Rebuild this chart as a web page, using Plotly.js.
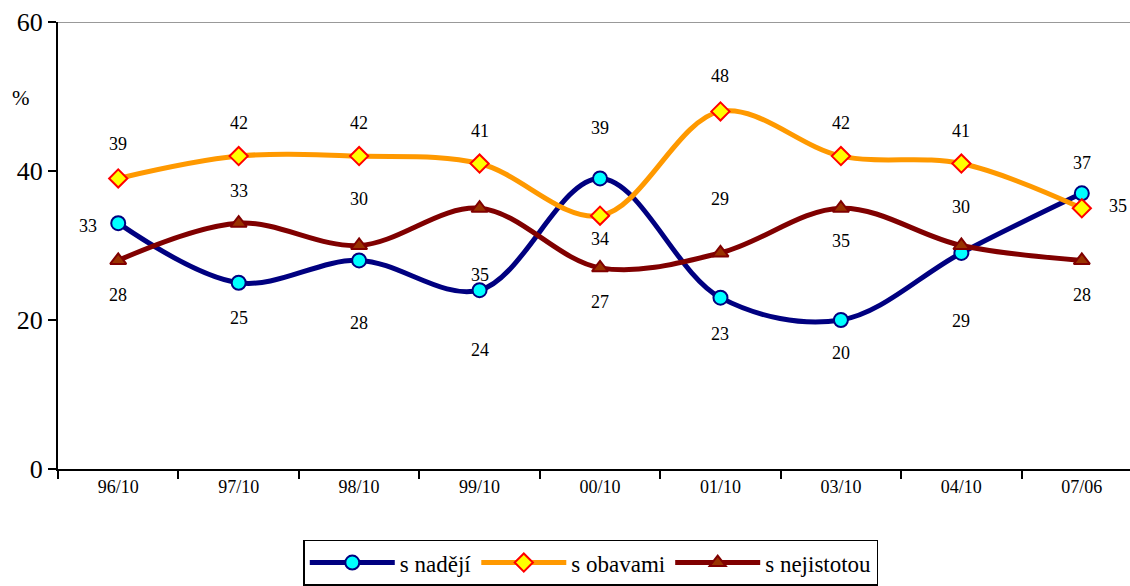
<!DOCTYPE html>
<html><head><meta charset="utf-8">
<script src="https://cdn.plot.ly/plotly-3.0.1.min.js"></script>
<style>html,body{margin:0;padding:0;background:#fff}#chart{width:1130px;height:586px}</style>
</head><body><div id="chart"></div>
<script>
const categories = ["96/10","97/10","98/10","99/10","00/10","01/10","03/10","04/10","07/06"];
const nadeji = [33,25,28,24,39,23,20,29,37];
const obavami = [39,42,42,41,34,48,42,41,35];
const nejistotou = [28,33,30,35,27,29,35,30,28];
const seriesNames = ["s nadějí","s obavami","s nejistotou"];

// label offsets in pixels [dx, dy] (dy positive = up)
const offNadeji = [[-30,-3],[0,-35],[0,-63],[0,-60],[0,50],[0,-36],[0,-33],[0,-68],[0,30]];
const offObavami = [[0,34],[0,33],[0,33],[0,33],[0,-23],[0,35],[0,33],[0,33],[36,2]];
const offNejist = [[0,-35],[0,32],[0,47],[0,-67],[0,-34],[0,54],[0,-33],[0,39],[0,-35]];

const font = "Times New Roman, Liberation Serif, serif";
function mk(name, y, lc, mc, ml, sym){
  return {x:categories, y:y, name:name, type:"scatter", mode:"lines+markers",
    line:{color:lc, width:5, shape:"spline", smoothing:1},
    marker:{symbol:sym, size:14, color:mc, line:{color:ml, width:2}}};
}
const data = [
  mk(seriesNames[0], nadeji, "#000080", "#00FFFF", "#000080", "circle"),
  mk(seriesNames[1], obavami, "#FF9900", "#FFFF00", "#FF0000", "diamond"),
  mk(seriesNames[2], nejistotou, "#800000", "#993300", "#800000", "triangle-up")
];
const anns = [];
[[nadeji,offNadeji],[obavami,offObavami],[nejistotou,offNejist]].forEach(([vals,offs])=>{
  vals.forEach((v,i)=>{
    anns.push({x:categories[i], y:v, xref:"x", yref:"y", text:String(v), showarrow:false,
      xshift:offs[i][0], yshift:offs[i][1], font:{family:font, size:18, color:"#000"}});
  });
});
anns.push({x:-0.045, y:0.83, xref:"paper", yref:"paper", yanchor:"middle", text:"%", showarrow:false,
  font:{family:font, size:21, color:"#000"}});

const layout = {
  width:1130, height:586,
  margin:{l:58, r:0, t:22, b:114},
  paper_bgcolor:"#fff", plot_bgcolor:"#fff",
  font:{family:font},
  showlegend:true,
  legend:{orientation:"h", x:0.497, xanchor:"center", y:-0.158, yanchor:"top",
    bordercolor:"#000", borderwidth:1.5, font:{family:font, size:23, color:"#000"},
    itemwidth:85, tracegroupgap:0},
  xaxis:{type:"category", range:[-0.5, 8.4], showgrid:false, showline:true, linecolor:"#000", linewidth:2,
    ticks:"outside", tickson:"boundaries", ticklen:8, tickwidth:2, tickcolor:"#000",
    tickfont:{family:font, size:18, color:"#000"}, zeroline:false},
  yaxis:{range:[0,60], tickvals:[0,20,40,60], showgrid:false, showline:true, linecolor:"#000", linewidth:2,
    ticks:"outside", ticklen:8, tickwidth:2, tickcolor:"#000", zeroline:false,
    tickfont:{family:font, size:26, color:"#000"}},
  shapes:[{type:"line", xref:"paper", yref:"y", x0:0, x1:1, y0:60, y1:60, line:{color:"#999", width:2}}],
  annotations:anns
};
Plotly.newPlot("chart", data, layout, {displayModeBar:false});
</script></body></html>
